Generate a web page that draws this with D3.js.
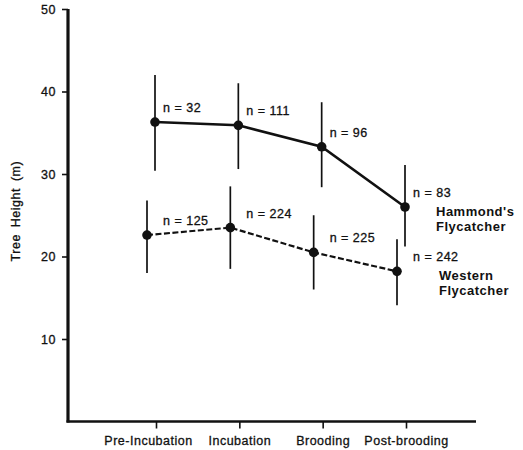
<!DOCTYPE html>
<html>
<head>
<meta charset="utf-8">
<script src="https://cdn.jsdelivr.net/npm/d3@7"></script>
<style>
  body { margin: 0; background: #fff; }
  svg text { font-family: "Liberation Sans", Arial, Helvetica, sans-serif; fill: #111; }
  .axis text { font-size: 12.5px; letter-spacing: 0.5px; stroke: #111; stroke-width: 0.3px; }
  .axis line { stroke: #111; stroke-width: 1.6; }
  .nlab { font-size: 12.5px; letter-spacing: 0.5px; stroke: #111; stroke-width: 0.3px; }
  .legend { font-size: 13px; font-weight: bold; letter-spacing: 0.5px; }
</style>
</head>
<body>
<svg id="chart1"></svg>
<script>
// stages along the x axis
const stages = ['Pre-Incubation', 'Incubation', 'Brooding', 'Post-brooding'];

// Hammond's Flycatcher: mean tree height and the ends of the bars (m)
const hammondMean = [36.3, 35.9, 33.3, 26.0];
const hammondHigh = [42.0, 41.0, 38.7, 31.1];
const hammondLow = [30.4, 30.6, 28.4, 21.2];
const hammondN = [32, 111, 96, 83];

// Western Flycatcher
const westernMean = [22.6, 23.5, 20.5, 18.2];
const westernHigh = [26.8, 28.5, 25.0, 22.1];
const westernLow = [18.0, 18.5, 16.0, 14.1];
const westernN = [125, 224, 225, 242];

const yTicks = [10, 20, 30, 40, 50];

let w = 523, h = 450;
let xScale, yScale;
let chart1;

// build one row per stage for a series
function makeRows(mean, high, low, n) {
  return stages.map((s, i) => ({
    stage: s,
    mean: mean[i],
    high: high[i],
    low: low[i],
    n: n[i]
  }));
}

function drawSeries(rows, opts) {
  let g = chart1.append('g');
  let px = (d) => xScale(d.stage) + opts.offset;

  // vertical bars
  g.selectAll('line.bar')
    .data(rows)
    .enter()
    .append('line')
    .attr('class', 'bar')
    .attr('x1', px)
    .attr('x2', px)
    .attr('y1', (d) => yScale(d.high))
    .attr('y2', (d) => yScale(d.low))
    .attr('stroke', '#111')
    .attr('stroke-width', 1.7);

  let line = d3.line()
    .x(px)
    .y((d) => yScale(d.mean));

  g.append('path')
    .datum(rows)
    .attr('d', line)
    .attr('fill', 'none')
    .attr('stroke', '#111')
    .attr('stroke-width', opts.width)
    .attr('stroke-dasharray', opts.dash);

  g.selectAll('circle')
    .data(rows)
    .enter()
    .append('circle')
    .attr('cx', px)
    .attr('cy', (d) => yScale(d.mean))
    .attr('r', 4.8)
    .attr('fill', '#111');

  // sample sizes
  g.selectAll('text.nlab')
    .data(rows)
    .enter()
    .append('text')
    .attr('class', 'nlab')
    .attr('x', (d) => xScale(d.stage) + 7)
    .attr('y', (d) => yScale(d.mean) - 10)
    .text((d) => 'n = ' + d.n);

  // series name next to the last point
  let last = rows[rows.length - 1];
  let lab = g.append('text')
    .attr('class', 'legend')
    .attr('x', px(last) + opts.legendDx)
    .attr('y', yScale(last.mean) + 9);
  opts.name.forEach((t, i) => {
    lab.append('tspan')
      .attr('x', px(last) + opts.legendDx)
      .attr('dy', i == 0 ? 0 : 15)
      .text(t);
  });
}

function makeChart1() {
  chart1 = d3.select('#chart1')
    .attr('width', w)
    .attr('height', h);

  let left = 68, right = 476, bottom = 421.5, top = 9;

  xScale = d3.scalePoint()
    .domain(stages)
    .range([156, 406]);

  yScale = d3.scaleLinear()
    .domain([0, 50])
    .range([bottom, top]);

  // AXES
  let yAxis = d3.axisLeft(yScale)
    .tickValues(yTicks)
    .tickSize(6)
    .tickSizeOuter(0)
    .tickPadding(6);

  let yAxisGroup = chart1.append('g')
    .attr('class', 'axis')
    .attr('transform', `translate(${left}, 0)`)
    .call(yAxis);
  yAxisGroup.select('.domain').remove();
  yAxisGroup.selectAll('text').attr('font-family', null);

  let xAxis = d3.axisBottom(xScale)
    .tickSize(7)
    .tickSizeOuter(0)
    .tickPadding(8);

  let xAxisGroup = chart1.append('g')
    .attr('class', 'axis')
    .attr('transform', `translate(0, ${bottom})`)
    .call(xAxis);
  xAxisGroup.select('.domain').remove();
  xAxisGroup.selectAll('text').attr('font-family', null);
  // the first label sits a little left of its tick in the original
  xAxisGroup.selectAll('text')
    .filter((d) => d == stages[0])
    .attr('dx', -8);

  // heavy frame lines
  chart1.append('line')
    .attr('x1', left).attr('x2', left)
    .attr('y1', top).attr('y2', bottom + 1)
    .attr('stroke', '#111').attr('stroke-width', 3.2);
  chart1.append('line')
    .attr('x1', left - 1.5).attr('x2', right)
    .attr('y1', bottom).attr('y2', bottom)
    .attr('stroke', '#111').attr('stroke-width', 2.6);

  // y axis title
  chart1.append('text')
    .attr('class', 'nlab')
    .attr('transform', `translate(20, ${yScale(25.5)}) rotate(-90)`)
    .attr('text-anchor', 'middle')
    .attr('word-spacing', 3)
    .text('Tree Height (m)');

  drawSeries(makeRows(hammondMean, hammondHigh, hammondLow, hammondN),
    { offset: -1, width: 2.6, dash: null, legendDx: 31, name: ["Hammond's", 'Flycatcher'] });
  drawSeries(makeRows(westernMean, westernHigh, westernLow, westernN),
    { offset: -9, width: 2.2, dash: '6,2.5', legendDx: 42, name: ['Western', 'Flycatcher'] });
}

window.onload = function () {
  makeChart1();
}
</script>
</body>
</html>
